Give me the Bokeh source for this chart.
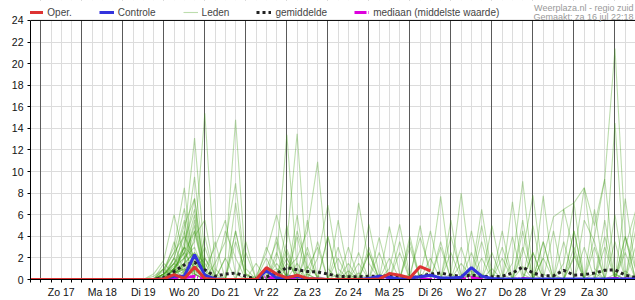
from bokeh.plotting import figure
from bokeh.models import (FixedTicker, Legend, LegendItem, Label, Span, Grid, Range1d,
                          BoxAnnotation)
from bokeh.embed import file_html
from bokeh.resources import INLINE

# ---------------- data ----------------
# 6-hourly samples; x in days relative to Zo 17 jul 00:00; first sample = za 16 jul 18:00
first_sample_day = -0.25
step_day = 0.25
n_samples = 60
day_labels = ["Zo 17", "Ma 18", "Di 19", "Wo 20", "Do 21", "Vr 22", "Za 23",
              "Zo 24", "Ma 25", "Di 26", "Wo 27", "Do 28", "Vr 29", "Za 30"]
y_tick_values = [0, 2, 4, 6, 8, 10, 12, 14, 16, 18, 20, 22, 24]

# operational run (ends di 26 12:00)
oper = [0,
        0, 0, 0, 0,
        0, 0, 0, 0,
        0, 0, 0, 0,
        0.05, 0.45, 0.1, 1.15,
        0.1, 0, 0, 0,
        0, 0, 1.1, 0.5,
        0.15, 0.4, 0.1, 0.05,
        0, 0, 0, 0,
        0, 0.05, 0.55, 0.4,
        0.15, 1.2, 0.8]

controle = [0,
            0, 0, 0, 0,
            0, 0, 0, 0,
            0, 0, 0, 0,
            0.05, 0.3, 0.3, 2.3,
            0.4, 0.05, 0, 0,
            0, 0, 0.8, 0.15,
            0.2, 0.3, 0.05, 0.05,
            0, 0, 0, 0,
            0.1, 0.3, 0.2, 0.05,
            0.15, 0.25, 0.4, 0.15,
            0.15, 0.2, 1.1, 0.3,
            0.1, 0.05, 0.05, 0.05,
            0.05, 0.05, 0.05, 0.05,
            0.05, 0.05, 0.05, 0.05,
            0.05, 0.05, 0.05]

gemiddelde = [0,
              0, 0, 0, 0,
              0, 0, 0, 0,
              0, 0, 0, 0,
              0.15, 0.75, 1.35, 1.6,
              0.9, 0.3, 0.5, 0.6,
              0.3, 0.05, 0.25, 0.55,
              1.1, 0.9, 0.75, 0.7,
              0.5, 0.3, 0.25, 0.25,
              0.3, 0.3, 0.35, 0.2,
              0.15, 0.3, 0.5, 0.6,
              0.4, 0.3, 0.4, 0.3,
              0.25, 0.3, 0.6, 1.15,
              0.6, 0.35, 0.35, 0.85,
              0.4, 0.45, 0.6, 0.85,
              0.9, 0.4, 0.2]

mediaan = [0,
           0, 0, 0, 0,
           0, 0, 0, 0,
           0, 0, 0, 0,
           0, 0.05, 0.15, 0.3,
           0.05, 0, 0, 0,
           0, 0, 0.25, 0.05,
           0, 0.1, 0, 0,
           0, 0, 0, 0,
           0, 0, 0.05, 0,
           0, 0.1, 0, 0,
           0, 0, 0.2, 0,
           0, 0, 0, 0.1,
           0, 0, 0, 0,
           0, 0, 0, 0,
           0.1, 0.05, 0]

# ensemble members: all zero for the first 12 samples, then 48 samples (di 19 18:00 .. zo 31 12:00)
leden_lead_zeros = 12
lid01 = [0, 0.5, 1.2, 2.0, 3.5, 15.4, 1.0, 0, 0, 0, 0, 0.2, 1.5, 0.3, 0, 0, 0, 0, 0.5, 0, 0, 0, 0, 0,
         0, 0.3, 0, 0, 0, 0, 0, 0.8, 0, 0, 0, 0, 1.2, 0, 0, 0.3, 0, 0, 0, 0, 0, 0.5, 0, 0]
lid02 = [0.3, 1.0, 2.5, 4.0, 13.1, 2.0, 0.5, 0, 0, 0, 0, 0, 0.5, 2.8, 0.4, 0, 0, 0, 0, 0, 0.6, 0, 0, 0,
         0, 0, 0, 0, 0, 0, 1.5, 0.2, 0, 0, 0, 0, 0, 0, 0, 0, 0, 2.2, 0, 0, 0, 0, 0, 0]
lid03 = [0, 0, 1.5, 3.0, 9.5, 0.8, 0, 2.0, 14.8, 1.0, 0, 0, 0, 0, 0, 0, 0, 0, 0, 0.4, 0, 0, 0, 0,
         0, 0, 0, 0, 0, 0, 0, 0, 0.5, 0, 0, 0, 0, 0, 0, 0, 0, 0, 0, 0, 0, 0, 0.8, 0]
lid04 = [0, 1.0, 3.0, 8.5, 0.5, 0, 1.5, 3.5, 8.9, 0.5, 0, 0, 0, 0, 0, 0, 0, 0, 0, 0, 0, 0, 0, 0,
         0, 0, 0, 0, 0, 0, 0, 0, 0, 0, 0, 0, 0, 0, 0, 0, 0, 0, 0, 0.6, 0, 0, 0, 0]
lid05 = [0.5, 1.8, 6.0, 2.0, 0, 0, 0, 0, 0, 0, 0, 0, 2.0, 13.4, 1.0, 0, 0, 0, 0, 0, 0, 0, 0, 0,
         0, 0, 0.3, 0, 0, 0, 0, 0, 0, 0, 0, 0, 0, 0, 0, 0, 0, 0, 0, 0, 0, 0, 0, 0]
lid06 = [0, 0.8, 2.5, 6.6, 1.0, 0, 0, 0, 7.1, 0.4, 0, 0, 0, 3.5, 13.5, 0.5, 0, 0, 0, 0, 0, 0, 0, 0,
         0, 0, 0, 0, 0, 0, 0, 0, 0, 0, 0, 0, 0, 0, 0, 0, 0, 0, 0, 0, 0, 0, 0, 0]
lid07 = [0, 0, 0.5, 1.5, 2.5, 1.0, 3.0, 5.5, 0.5, 0, 0, 0, 0, 1.0, 2.0, 4.5, 10.9, 1.0, 0, 0, 0, 0, 0, 0,
         0, 0, 0, 0, 0, 0, 0, 0, 0, 0, 0, 0, 0, 0, 0, 0, 0, 0, 0, 0, 0, 0, 0, 0]
lid08 = [0, 0.3, 1.0, 2.5, 4.5, 0.5, 0, 0, 0, 0, 0, 0, 0, 0.5, 0, 0, 2.0, 6.9, 1.0, 0, 7.1, 1.5, 0, 0,
         0, 0, 0, 0, 0, 0, 0, 0, 0, 0, 0, 0, 0, 0, 0, 0, 0, 0, 0, 0, 0, 0, 0, 0]
lid09 = [0, 0, 0.8, 3.0, 2.0, 0.5, 0, 0, 0, 0, 0, 0, 0, 0, 0, 0, 0, 0, 0, 0.8, 0, 5.1, 0.5, 0,
         0, 0, 0, 1.0, 7.7, 0.5, 0, 0, 0, 0, 0, 0, 0, 0, 0, 0, 0, 0, 0, 0, 0, 0, 0, 0]
lid10 = [0, 0.5, 1.5, 0.8, 1.2, 0, 0, 0, 0, 0, 0, 0.5, 1.0, 0, 0, 0, 0, 0, 0, 0, 0, 0, 3.9, 0.2,
         0, 0, 0, 0, 0, 0.5, 8.0, 0.5, 0, 0, 0, 1.5, 9.1, 0.5, 0, 0, 0, 0, 0, 0, 0, 0, 0, 0]
lid11 = [0, 0, 1.0, 2.0, 5.0, 0.3, 0, 0, 0, 0, 0, 0, 0, 0, 0, 1.2, 0.3, 0, 0, 0, 0, 0, 0, 4.9,
         0.5, 0, 0, 0, 0, 0, 0, 0, 0, 0, 0, 0, 0, 0, 0, 0, 0, 2.0, 8.5, 1.0, 0, 0, 0, 0]
lid12 = [0, 0, 0.5, 1.2, 0.8, 3.0, 0.3, 0, 0, 0, 0, 0, 0, 0, 0, 0, 0, 0, 0, 0, 0, 0, 0, 1.0,
         5.1, 0.3, 0, 0, 0, 0, 0, 0, 0, 0, 0, 0, 0, 0, 0, 0, 6.5, 7.1, 8.5, 5.0, 9.3, 21.4, 4.0, 1.0]
lid13 = [0, 0, 0, 0.5, 1.5, 0, 0, 0, 0, 0, 0, 0, 0, 0, 0, 0.5, 0, 0, 0, 0, 0, 0, 0, 0,
         0, 0.5, 3.9, 0.8, 0, 0, 0, 0.5, 6.5, 0.5, 0, 0, 0, 0, 0, 0, 0, 0, 0, 0, 0, 0, 0, 0]
lid14 = [0, 0.3, 0.8, 1.5, 2.5, 1.5, 0, 0, 0, 0, 0, 0, 0, 0, 0, 0, 0, 0, 0, 0, 0, 0, 0, 0,
         0, 0, 0.5, 4.5, 0.3, 0, 0, 0, 0, 0, 0, 7.2, 0.5, 0, 0, 0, 0, 0, 0, 0, 1.0, 14.5, 0.5, 0]
lid15 = [0, 0, 0.5, 1.0, 0, 0, 0, 0, 0, 0, 0, 0, 0, 1.5, 0.5, 0, 0, 0, 0, 0, 0, 0, 0, 0,
         0, 0, 0, 0, 0, 0, 0, 0, 0, 0, 0, 0, 2.5, 7.8, 0.5, 0, 0, 0, 0, 4.0, 9.3, 0.5, 0, 0]
lid16 = [0, 0, 1.0, 2.5, 1.0, 0, 0, 0, 0, 0, 0, 0, 0.5, 0, 0, 0, 0, 0, 0, 0, 0, 0, 0, 0,
         0, 0, 0, 0, 0, 0, 0, 0, 0, 1.0, 0, 0, 0, 0, 7.75, 0.5, 0, 0, 0, 0, 0, 0, 7.5, 1.0]
lid17 = [0, 0, 0, 0.3, 0.8, 0, 0, 0, 0, 0, 0, 0, 0, 0, 0, 0, 0, 0, 0, 0, 0, 0, 0, 0,
         0, 0, 0, 0, 0, 0, 0, 0, 0, 0, 0, 0, 0, 0, 2.0, 5.8, 6.5, 2.5, 0, 0, 0, 0, 3.0, 6.3]
lid18 = [0, 0.5, 1.5, 4.0, 2.0, 0, 0, 0, 0, 0, 0, 0, 0, 0, 0, 0, 0, 0, 0, 0, 0, 0, 0, 0,
         0, 0, 0, 0, 0, 0, 0, 0, 0, 5.0, 0.5, 0, 0, 0, 0, 0, 1.5, 7.1, 0, 0, 0, 0, 0, 0]
lid19 = [0, 0, 0.5, 3.5, 6.5, 1.0, 0, 0, 0, 0, 0.3, 2.5, 6.0, 2.0, 0, 0, 0, 0, 0, 0, 0, 0, 0, 0,
         0, 0, 0, 0, 0, 0, 0, 0, 0, 0, 0, 0, 0, 0, 0, 0, 0, 0, 0, 0, 0, 0, 0, 0]
lid20 = [0, 0.3, 2.0, 5.0, 7.5, 0.5, 0, 0, 0, 0, 0, 0, 0, 0, 4.5, 1.0, 3.0, 0, 0, 0, 0, 0, 0, 0,
         0, 0, 0, 0, 0, 0, 0, 0, 0, 0, 0, 0, 0, 0, 0, 0, 0, 0, 0, 0, 0, 0, 0, 0]
lid21 = [0, 0, 1.0, 0.5, 4.0, 5.5, 0.5, 4.5, 2.0, 0, 0, 0, 0, 0, 0, 0, 0, 0, 5.5, 0.5, 0, 0, 0, 0,
         0, 0, 0, 0, 0, 0, 0, 0, 0, 0, 0, 0, 4.5, 0, 0, 0, 0, 0, 0, 0, 0, 0, 0, 0]
lid22 = [0, 1.0, 0, 1.5, 5.5, 0, 0, 0, 0, 0, 0, 1.0, 3.5, 0, 0, 0, 0, 0, 0, 0, 0, 0, 0, 0,
         2.5, 0, 0, 0, 0, 0, 0, 0, 0, 0, 0, 0, 0, 2.5, 0, 0, 0, 0, 0, 0, 0, 0, 4.0, 0]
lid23 = [0, 0, 0.3, 2.0, 3.0, 0.5, 0, 0, 4.5, 0, 0, 0, 0, 0, 0, 0, 0, 0, 0, 0, 1.5, 0, 0, 0,
         0, 0, 0, 0, 3.5, 0, 0, 0, 0, 0, 0, 0, 0, 0, 3.5, 0, 0, 0, 0, 0, 0, 0, 0, 0]
lid24 = [0, 0, 0, 0, 1.0, 2.0, 0, 0, 0, 0, 0, 0, 0, 0, 0, 0, 0, 4.0, 0, 0, 0, 0, 0, 0,
         0, 0, 0, 0, 0, 0, 0, 0, 0, 0, 0, 0, 0, 0, 0, 0, 0, 0, 5.5, 3.5, 0, 0, 0, 0]
lid25 = [0, 0, 0.5, 1.0, 0.5, 0, 0, 0, 0, 0, 0, 0, 0, 0, 0, 0, 0, 0, 0, 0, 0, 0, 0, 0,
         0, 0, 0, 0, 0, 0, 0, 0, 0, 0, 3.0, 0, 0, 0, 0, 0, 0, 0, 0, 0, 0, 0, 0, 5.8]
lid26 = [0, 0, 0, 0.8, 2.0, 0.5, 0, 0, 0, 0, 0, 0, 0, 2.5, 0, 3.0, 0, 0, 0, 0, 0, 0, 0, 0,
         0, 0, 0, 0, 0, 0, 0, 0, 0, 0, 0, 0, 0, 0, 0, 0, 0, 0, 0, 0, 0, 0, 0, 0]
lid27 = [0, 0, 0, 0, 0, 0, 0, 0, 0, 0, 0, 0, 0, 0, 0, 0, 0, 0, 0, 0, 0, 2.5, 0, 0,
         0, 3.0, 0, 0, 0, 0, 0, 0, 0, 0, 0, 0, 0, 0, 0, 0, 0, 0, 0, 0, 0, 3.5, 0, 0]
lid28 = [0, 0, 0.5, 0, 0, 0, 0, 0, 0, 0, 0, 0, 0, 0, 0, 0, 0, 0, 0, 1.5, 0, 0, 0, 0,
         0, 0, 0, 0, 0, 4.0, 0.5, 0, 0, 0, 0, 0, 0, 0, 0, 0, 0, 4.5, 0, 0, 0, 0, 0, 0]
lid29 = [0, 0, 0, 0, 0, 0, 0, 0, 0, 0, 0, 0, 0, 0, 1.5, 0, 0, 0, 0, 0, 0, 0, 0, 0,
         0, 0, 0, 0, 0, 0, 0, 2.5, 0, 0, 0, 0, 0, 5.0, 0, 0, 0, 0, 0, 0, 3.0, 0, 0, 0]
lid30 = [0, 0.5, 1.0, 0, 0, 0, 0, 0, 3.5, 0.5, 0, 0, 0, 0, 0, 0, 0, 0, 0, 0, 0, 0, 0, 0,
         0, 0, 0, 0, 0, 0, 0, 0, 2.0, 0, 0, 0, 0, 0, 0, 0, 0, 0, 0, 0, 0, 0, 0, 0]
lid31 = [0, 0, 0, 0,  0, 0, 0, 0,  0, 0, 0, 3.0,  1.0, 0, 0, 5.5,  0, 0, 2.0, 0,  0, 0, 0, 0,
         0, 3.5, 0, 0,  0, 0, 0, 0,  0, 0, 4.5, 0,  0, 0, 0, 0,  0, 0, 0, 3.0,  0, 0, 0, 0]
lid32 = [0, 0, 1.0, 4.5,  0.5, 0, 0, 0,  0, 2.5, 0, 0,  0, 0, 6.0, 0,  0, 0, 0, 0,  0, 2.5, 0, 0,
         0, 0, 0, 0,  0, 5.5, 0, 0,  0, 0, 0, 0,  0, 0, 3.5, 0,  0, 0, 0, 0,  0, 0, 4.0, 0]
lid33 = [0, 0, 2.0, 0.5,  0, 0, 3.5, 0,  0, 0, 0, 0,  4.0, 0, 0, 0,  0, 0, 0, 3.0,  0, 0, 0, 0,
         0, 0, 0, 2.0,  0, 0, 0, 0,  3.5, 0, 0, 0,  0, 0, 0, 0,  0, 4.5, 0, 0,  0, 0, 0, 3.0]
lid34 = [0, 0.5, 1.5, 2.5,  6.0, 0.5, 0, 0,  0, 0, 1.5, 0,  0, 0, 0, 0,  0, 4.0, 0, 0,  0, 0, 0, 0,
         3.5, 0, 0, 0,  0, 0, 0, 4.5,  0, 0, 0, 0,  0, 2.5, 0, 0,  0, 0, 0, 0,  5.5, 0, 0, 0]
lid35 = [0, 1.5, 0.5, 0,  0, 4.0, 0, 0,  0, 0, 0, 0,  0, 5.0, 0, 0,  0, 0, 0, 0,  0, 0, 2.5, 0,
         0, 0, 0, 0,  3.0, 0, 0, 0,  0, 0, 0, 4.0,  0, 0, 0, 0,  3.5, 0, 0, 0,  0, 6.0, 0, 0]
lid36 = [0, 0, 0.5, 3.0,  0, 0, 0, 0,  4.5, 0, 0, 0,  0, 0, 0, 2.5,  0, 0, 0, 0,  0, 0, 0, 2.0,
         0, 0, 0, 0,  0, 0, 3.0, 0,  0, 0, 0, 0,  5.5, 0, 0, 0,  0, 0, 3.0, 0,  0, 0, 0, 0]
lid37 = [0, 0, 1.0, 3.0,  7.5, 0, 0, 0,  0, 0, 0, 2.0,  0, 0, 0, 0,  3.5, 0, 0, 0,  0, 0, 0, 0,
         0, 0, 5.0, 0,  0, 0, 0, 0,  0, 2.5, 0, 0,  0, 0, 0, 4.5,  0, 0, 0, 0,  0, 0, 2.5, 0]
lid38 = [0, 0.5, 3.5, 0.5,  0, 0, 0, 2.0,  0, 0, 0, 0,  0, 0, 4.0, 0,  0, 0, 0, 0,  2.5, 0, 0, 0,
         0, 0, 0, 0,  0, 0, 0, 0,  5.0, 0, 0, 0,  0, 0, 2.0, 0,  0, 0, 0, 6.5,  0, 0, 0, 0]
lid39 = [0, 0.5, 2.0, 5.5,  0.5, 0, 0, 0,  0, 0, 0, 0,  2.5, 0, 0, 0,  0, 0, 3.0, 0,  0, 0, 0, 0,
         0, 4.0, 0, 0,  0, 0, 0, 0,  0, 0, 2.0, 0,  0, 0, 0, 0,  0, 3.0, 0, 0,  0, 0, 0, 4.5]
lid40 = [0, 0, 0.5, 1.5,  4.5, 0, 0, 0,  0, 3.5, 0, 0,  0, 2.0, 0, 0,  0, 0, 0, 0,  0, 3.0, 0, 0,
         0, 0, 0, 0,  0, 2.5, 0, 0,  0, 0, 0, 0,  3.0, 0, 0, 0,  0, 0, 0, 0,  4.0, 0, 0, 0]

leden = [lid01, lid02, lid03, lid04, lid05, lid06, lid07, lid08, lid09, lid10,
         lid11, lid12, lid13, lid14, lid15, lid16, lid17, lid18, lid19, lid20,
         lid21, lid22, lid23, lid24, lid25, lid26, lid27, lid28, lid29, lid30,
         lid31, lid32, lid33, lid34, lid35, lid36, lid37, lid38, lid39, lid40]

# ---------------- figure ----------------
t_all = [first_sample_day + step_day * i for i in range(n_samples)]

FONT = "Liberation Sans"
Y_MAX = 24
# the frame reaches the top of the canvas; the 20 px band above y=24 holds the legend
y_top = Y_MAX * 280.0 / 260.0

p = figure(width=635, height=300, output_backend="svg", toolbar_location=None,
           x_range=Range1d(first_sample_day, first_sample_day + step_day * (n_samples - 1)),
           y_range=Range1d(0, y_top),
           min_border_left=30, min_border_right=0, min_border_top=0, min_border_bottom=20)
p.outline_line_color = None
p.background_fill_color = "white"
p.border_fill_color = "white"

six_hour_ticks = t_all
day_ticks = list(range(0, 15))

# grids
p.xgrid.ticker = FixedTicker(ticks=six_hour_ticks)
p.xgrid.grid_line_color = "#dcdcdc"
p.xgrid.grid_line_width = 1
p.ygrid.ticker = FixedTicker(ticks=y_tick_values)
p.ygrid.grid_line_color = "#dcdcdc"
p.ygrid.grid_line_width = 1
day_grid = Grid(dimension=0, ticker=FixedTicker(ticks=day_ticks),
                grid_line_color="#5a5a5a", grid_line_width=1)
p.add_layout(day_grid)
# white band above the plotting area (covers the grid lines there)
p.add_layout(BoxAnnotation(bottom=Y_MAX, fill_color="white", fill_alpha=1.0,
                           line_alpha=0, level="underlay"))
p.add_layout(Span(location=Y_MAX, dimension="width", line_color="black", line_width=1))

# axes
xa = p.xaxis[0]
xa.ticker = FixedTicker(ticks=six_hour_ticks)
overrides = {}
for tk in six_hour_ticks:
    overrides[tk] = ""
for d, lab in enumerate(day_labels):
    overrides[d + 0.5] = lab
xa.major_label_overrides = overrides
xa.major_tick_out = 3
xa.major_tick_in = 0
xa.minor_tick_out = 0
xa.minor_tick_in = 0
xa.axis_line_color = "black"
xa.major_tick_line_color = "black"
xa.major_label_standoff = 3
xa.major_label_text_font = FONT
xa.major_label_text_font_size = "10.5px"
xa.major_label_text_color = "#111111"

ya = p.yaxis[0]
ya.ticker = FixedTicker(ticks=y_tick_values)
ya.bounds = (0, Y_MAX)
ya.major_tick_out = 3
ya.major_tick_in = 0
ya.minor_tick_out = 0
ya.minor_tick_in = 0
ya.axis_line_color = "black"
ya.major_tick_line_color = "black"
ya.major_label_standoff = 4
ya.major_label_text_font = FONT
ya.major_label_text_font_size = "10.5px"
ya.major_label_text_color = "#111111"

# ensemble members
leden_renderers = []
for member in leden:
    vals = [0.0] * leden_lead_zeros + member
    r = p.line(t_all, vals, line_color="#3a9a10", line_alpha=0.34, line_width=1.1)
    leden_renderers.append(r)

r_med = p.line(t_all, mediaan, line_color="#dd00dd", line_width=3, line_dash="12 2 1 2")
r_mean = p.line(t_all, gemiddelde, line_color="#222222", line_width=3, line_dash="3 3")
r_ctrl = p.line(t_all, controle, line_color="#3333dd", line_width=3)
r_oper = p.line(t_all[:len(oper)], oper, line_color="#dd3333", line_width=3)

legend = Legend(items=[
    LegendItem(label="Oper.", renderers=[r_oper]),
    LegendItem(label="Controle", renderers=[r_ctrl]),
    LegendItem(label="Leden", renderers=[leden_renderers[0]]),
    LegendItem(label="gemiddelde", renderers=[r_mean]),
    LegendItem(label="mediaan (middelste waarde)", renderers=[r_med]),
], orientation="horizontal", location=(-1.7, 259.7), glyph_width=15, glyph_height=14,
    label_standoff=4, spacing=27, padding=0, margin=0,
    border_line_alpha=0, background_fill_alpha=0,
    label_text_font=FONT, label_text_font_size="10px", label_height=14)
p.add_layout(legend)

p.add_layout(Label(x=603, y=271.5, x_units="screen", y_units="screen",
                   text="Weerplaza.nl - regio zuid", text_align="right",
                   text_baseline="alphabetic",
                   text_font=FONT, text_font_size="9px", text_color="#999999"))
p.add_layout(Label(x=603, y=262.3, x_units="screen", y_units="screen",
                   text="Gemaakt: za 16 jul 22:18", text_align="right",
                   text_baseline="alphabetic",
                   text_font=FONT, text_font_size="9px", text_color="#999999"))

open("out.html", "w").write(file_html(p, INLINE))
